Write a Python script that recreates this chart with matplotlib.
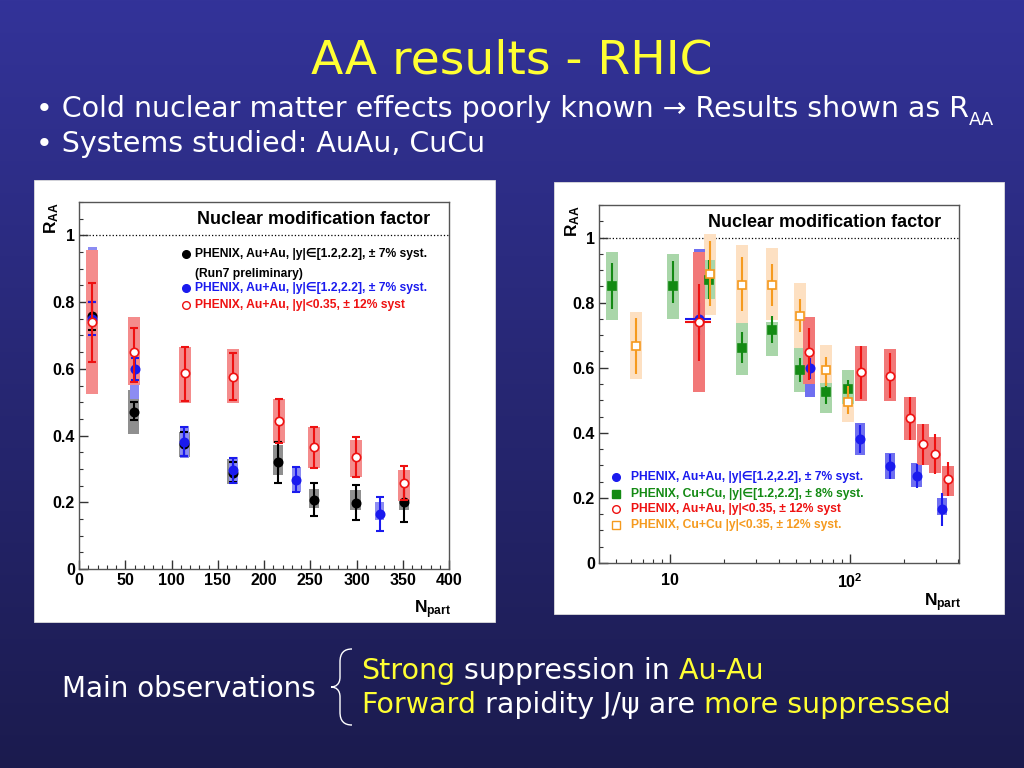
import numpy as np
import matplotlib
matplotlib.use('Agg')
import matplotlib.pyplot as plt
from matplotlib.path import Path
from matplotlib.patches import PathPatch, Rectangle
from matplotlib.ticker import MultipleLocator, FixedLocator, LogLocator, NullFormatter, FuncFormatter

plt.rcParams['mathtext.fontset'] = 'custom'
plt.rcParams['mathtext.rm'] = 'Liberation Sans:bold'
plt.rcParams['mathtext.it'] = 'Liberation Sans:bold'
plt.rcParams['mathtext.bf'] = 'Liberation Sans:bold'

# PHENIX Au+Au, forward rapidity |y| in [1.2,2.2]
npart_auau_fwd = [14.5, 60, 114, 167, 235, 325]
raa_auau_fwd = [0.75, 0.60, 0.38, 0.297, 0.267, 0.165]
stat_lo_auau_fwd = [0.70, 0.566, 0.339, 0.257, 0.23, 0.113]
stat_hi_auau_fwd = [0.80, 0.631, 0.425, 0.334, 0.305, 0.215]
sys_lo_auau_fwd = [0.535, 0.511, 0.332, 0.257, 0.232, 0.148]
sys_hi_auau_fwd = [0.965, 0.686, 0.43, 0.337, 0.307, 0.2]

# PHENIX Au+Au, mid rapidity |y|<0.35
npart_auau_mid = [14.5, 59.5, 114.5, 167, 216, 254.5, 299.5, 351]
raa_auau_mid = [0.741, 0.649, 0.586, 0.576, 0.444, 0.365, 0.335, 0.257]
stat_lo_auau_mid = [0.621, 0.561, 0.504, 0.508, 0.377, 0.302, 0.275, 0.207]
stat_hi_auau_mid = [0.857, 0.721, 0.666, 0.646, 0.511, 0.427, 0.397, 0.31]
sys_lo_auau_mid = [0.526, 0.551, 0.497, 0.497, 0.377, 0.302, 0.277, 0.205]
sys_hi_auau_mid = [0.955, 0.756, 0.666, 0.659, 0.511, 0.427, 0.387, 0.297]

# PHENIX Au+Au forward, Run7 preliminary
npart_run7 = [14.5, 59, 114, 166, 215, 254, 299, 351]
raa_run7 = [0.757, 0.472, 0.375, 0.287, 0.321, 0.207, 0.197, 0.20]
stat_lo_run7 = [0.716, 0.447, 0.34, 0.26, 0.259, 0.158, 0.146, 0.14]
stat_hi_run7 = [0.80, 0.50, 0.41, 0.32, 0.382, 0.259, 0.252, 0.26]
sys_lo_run7 = [0.70, 0.405, 0.335, 0.255, 0.282, 0.182, 0.177, 0.178]
sys_hi_run7 = [0.81, 0.536, 0.41, 0.33, 0.372, 0.239, 0.237, 0.222]

# PHENIX Cu+Cu, forward rapidity
npart_cucu_fwd = [4.7, 10.3, 16.5, 25.2, 37, 53, 74, 97]
raa_cucu_fwd = [0.85, 0.85, 0.87, 0.662, 0.717, 0.593, 0.526, 0.534]
stat_lo_cucu_fwd = [0.779, 0.799, 0.81, 0.615, 0.677, 0.556, 0.488, 0.51]
stat_hi_cucu_fwd = [0.921, 0.927, 0.93, 0.709, 0.758, 0.63, 0.556, 0.563]
sys_lo_cucu_fwd = [0.746, 0.75, 0.81, 0.577, 0.636, 0.524, 0.462, 0.49]
sys_hi_cucu_fwd = [0.955, 0.949, 0.93, 0.736, 0.74, 0.661, 0.554, 0.593]

# PHENIX Cu+Cu, mid rapidity
npart_cucu_mid = [6.4, 16.7, 25.2, 37, 53, 74, 97]
raa_cucu_mid = [0.666, 0.889, 0.855, 0.855, 0.758, 0.592, 0.495]
stat_lo_cucu_mid = [0.58, 0.789, 0.773, 0.791, 0.71, 0.544, 0.457]
stat_hi_cucu_mid = [0.753, 0.988, 0.94, 0.919, 0.811, 0.634, 0.544]
sys_lo_cucu_mid = [0.564, 0.763, 0.738, 0.746, 0.656, 0.488, 0.432]
sys_hi_cucu_mid = [0.771, 1.011, 0.977, 0.967, 0.86, 0.669, 0.564]

# x error on the most peripheral Au+Au bin (log plot only)
xerr_first = 2.4

RED = '#ee1111'
BLUE = '#1a1aee'
BLACK = '#000000'
GREEN = '#138a13'
ORANGE = '#f59a1e'
YEL = '#ffff33'
PLOT_FONT = ['Liberation Sans', 'DejaVu Sans']
SLIDE_FONT = 'DejaVu Sans'
BODY = 20.5


def draw_boxes(ax, x, slo, shi, color, halfw, logx, z):
    x = np.asarray(x, float)
    slo = np.asarray(slo, float)
    shi = np.asarray(shi, float)
    if logx:
        left, right = x / halfw, x * halfw
    else:
        left, right = x - halfw, x + halfw
    ax.bar(left, shi - slo, width=right - left, bottom=slo, align='edge',
           color=color, lw=0, zorder=z)


def draw_points(ax, x, y, lo, hi, color, marker, mfc, caps, z, xerr=None, ms=6):
    x = np.asarray(x, float)
    y = np.asarray(y, float)
    yerr = [y - np.asarray(lo), np.asarray(hi) - y]
    ax.errorbar(x, y, yerr=yerr, xerr=xerr, fmt='none', ecolor=color, elinewidth=1.5,
                capsize=caps, capthick=1.5, zorder=z)
    ax.plot(x, y, ls='none', marker=marker, ms=ms, mfc=mfc, mec=color, mew=1.2, zorder=z + 1)


def style_axes(ax):
    for s in ax.spines.values():
        s.set_color('#555555')
        s.set_linewidth(1.0)
    ax.tick_params(which='both', direction='in', top=False, right=False,
                   labelsize=11.5, pad=3, color='#333333')
    ax.tick_params(which='major', length=6.5, width=1.0)
    ax.tick_params(which='minor', length=3.2, width=0.8)
    for lab in ax.get_xticklabels() + ax.get_yticklabels():
        lab.set_fontweight('bold')
        lab.set_family(PLOT_FONT)
    ax.set_ylim(0, 1.1)
    ax.yaxis.set_major_locator(MultipleLocator(0.2))
    ax.yaxis.set_minor_locator(MultipleLocator(0.05))
    ax.yaxis.set_major_formatter(FuncFormatter(lambda v, p: '%g' % v))
    ax.axhline(1.0, ls=':', color='k', lw=0.9, zorder=1)
    ax.text(-0.073, 1.0, r'$R_{AA}$', transform=ax.transAxes, rotation=90,
            ha='center', va='top', fontsize=12.5)
    ax.text(0.955, -0.08, r'$N_{part}$', transform=ax.transAxes,
            ha='center', va='top', fontsize=12.5)
    ax.text(0.95, 0.951, 'Nuclear modification factor', transform=ax.transAxes,
            ha='right', va='center', fontsize=13, fontweight='bold', family=PLOT_FONT)


def legend_rows(ax, x_mark, x_text, rows, fs):
    for y, marker, mfc, col, label in rows:
        if marker:
            ax.plot([x_mark], [y], marker=marker, ms=5.5, mfc=mfc, mec=col, mew=1.0,
                    ls='none', transform=ax.transAxes, clip_on=False, zorder=10)
        ax.text(x_text, y, label, color=col, transform=ax.transAxes, va='center',
                ha='left', fontsize=fs, fontweight='bold', family=PLOT_FONT, zorder=10)


fig = plt.figure(figsize=(10.24, 7.68), dpi=100)

# slide background
bg = fig.add_axes([0, 0, 1, 1])
top = np.array([51, 51, 153]) / 255.0
bot = np.array([27, 27, 78]) / 255.0
t = np.linspace(0, 1, 256)[:, None, None]
grad = top * (1 - t) + bot * t
bg.imshow(grad, aspect='auto', extent=[0, 1, 0, 1], interpolation='bilinear')
bg.set_xlim(0, 1)
bg.set_ylim(0, 1)
bg.axis('off')


def px(x, y):
    return x / 1024.0, 1 - y / 768.0


# white panels behind the two plots
for x0, y0, x1, y1 in [(34, 180, 495, 622), (554, 182, 1004, 614)]:
    fx0, fy1 = px(x0, y1)
    bg.add_patch(Rectangle((fx0, fy1), (x1 - x0) / 1024.0, (y1 - y0) / 768.0,
                           facecolor='white', edgecolor='#dddddd', lw=0.6, zorder=2))


def rainbow(x, y, parts, size):
    txt = bg.text(x, y, parts[0][0], color=parts[0][1], fontsize=size,
                  family=SLIDE_FONT, va='baseline', ha='left', zorder=5)
    for s, c in parts[1:]:
        txt = bg.annotate(s, xycoords=txt, xy=(1, 0), va='bottom', ha='left', color=c,
                          fontsize=size, family=SLIDE_FONT, annotation_clip=False, zorder=5)
    return txt


# title and bullets
bg.text(0.5, 1 - 74 / 768.0, 'AA results - RHIC', color=YEL, fontsize=34,
        family=SLIDE_FONT, ha='center', va='baseline', zorder=5)
last = rainbow(36 / 1024.0, 1 - 117 / 768.0,
               [('\u2022 Cold nuclear matter effects poorly known \u2192 Results shown as R', 'white')],
               BODY)
bg.annotate('AA', xycoords=last, xy=(1, 0), xytext=(0, -4), textcoords='offset points',
            va='bottom', ha='left', color='white', fontsize=13, family=SLIDE_FONT,
            annotation_clip=False, zorder=5)
bg.text(36 / 1024.0, 1 - 152 / 768.0, '\u2022 Systems studied: AuAu, CuCu', color='white',
        fontsize=BODY, family=SLIDE_FONT, ha='left', va='baseline', zorder=5)

# main observations with brace
bg.text(62 / 1024.0, 1 - 697 / 768.0, 'Main observations', color='white', fontsize=BODY - 0.5,
        family=SLIDE_FONT, ha='left', va='baseline', zorder=5)
rainbow(361 / 1024.0, 1 - 679 / 768.0,
        [('Strong', YEL), (' suppression in', 'white'), (' Au-Au', YEL)], BODY)
rainbow(361 / 1024.0, 1 - 713 / 768.0,
        [('Forward', YEL), (' rapidity J/\u03c8 are', 'white'), (' more suppressed', YEL)], BODY)

brace = [(352, 649), (344, 649), (340, 653), (340, 662), (340, 677),
         (340, 684), (336, 687), (331, 687), (336, 687), (340, 690), (340, 697),
         (340, 712), (340, 721), (344, 725), (352, 725)]
codes = [Path.MOVETO, Path.CURVE4, Path.CURVE4, Path.CURVE4, Path.LINETO,
         Path.CURVE4, Path.CURVE4, Path.CURVE4, Path.CURVE4, Path.CURVE4, Path.CURVE4,
         Path.LINETO, Path.CURVE4, Path.CURVE4, Path.CURVE4]
bg.add_patch(PathPatch(Path([px(a, b) for a, b in brace], codes), facecolor='none',
                       edgecolor='white', lw=1.0, zorder=5))

# ---------------- left plot: linear Npart ----------------
ax1 = fig.add_axes([79 / 1024.0, 1 - 569 / 768.0, 370 / 1024.0, 367 / 768.0])
ax1.set_xlim(0, 400)
ax1.xaxis.set_major_locator(MultipleLocator(50))
ax1.xaxis.set_minor_locator(MultipleLocator(10))
ax1.xaxis.set_major_formatter(FuncFormatter(lambda v, p: '%g' % v))
style_axes(ax1)

draw_boxes(ax1, npart_run7, sys_lo_run7, sys_hi_run7, '#8f8f8f', 5.5, False, 2)
draw_boxes(ax1, npart_auau_fwd, sys_lo_auau_fwd, sys_hi_auau_fwd, '#8c8cf2', 5.0, False, 3)
draw_boxes(ax1, npart_auau_mid, sys_lo_auau_mid, sys_hi_auau_mid, '#f48c8c', 6.5, False, 4)
draw_points(ax1, npart_run7, raa_run7, stat_lo_run7, stat_hi_run7, BLACK, 'o', BLACK, 3, 5)
draw_points(ax1, npart_auau_fwd, raa_auau_fwd, stat_lo_auau_fwd, stat_hi_auau_fwd, BLUE, 'o', BLUE, 3, 7)
draw_points(ax1, npart_auau_mid, raa_auau_mid, stat_lo_auau_mid, stat_hi_auau_mid, RED, 'o', 'white', 3, 9)

legend_rows(ax1, 0.289, 0.314, [
    (0.858, 'o', BLACK, BLACK, 'PHENIX, Au+Au, |y|\u2208[1.2,2.2], \u00b1 7% syst.'),
    (0.804, None, None, BLACK, '(Run7 preliminary)'),
    (0.766, 'o', BLUE, BLUE, 'PHENIX, Au+Au, |y|\u2208[1.2,2.2], \u00b1 7% syst.'),
    (0.719, 'o', 'white', RED, 'PHENIX, Au+Au, |y|<0.35, \u00b1 12% syst'),
], 8.7)

# ---------------- right plot: log Npart ----------------
ax2 = fig.add_axes([599 / 1024.0, 1 - 563 / 768.0, 360 / 1024.0, 358 / 768.0])
ax2.set_xscale('log')
ax2.set_xlim(4, 405)
ax2.xaxis.set_major_locator(FixedLocator([10, 100]))
ax2.xaxis.set_minor_locator(LogLocator(base=10, subs=np.arange(2, 10)))
ax2.xaxis.set_minor_formatter(NullFormatter())
ax2.xaxis.set_major_formatter(FuncFormatter(lambda v, p: '10' if v < 50 else r'$10^{2}$'))
style_axes(ax2)
ax2.tick_params(axis='x', which='major', pad=7)

draw_boxes(ax2, npart_cucu_mid, sys_lo_cucu_mid, sys_hi_cucu_mid, '#fde0c2', 1.08, True, 2)
draw_boxes(ax2, npart_cucu_fwd, sys_lo_cucu_fwd, sys_hi_cucu_fwd, '#a9d6a9', 1.08, True, 3)
draw_boxes(ax2, npart_auau_fwd, sys_lo_auau_fwd, sys_hi_auau_fwd, '#6f6ff0', 1.07, True, 4)
draw_boxes(ax2, npart_auau_mid, sys_lo_auau_mid, sys_hi_auau_mid, '#f27878', 1.08, True, 5)
draw_points(ax2, npart_cucu_fwd, raa_cucu_fwd, stat_lo_cucu_fwd, stat_hi_cucu_fwd, GREEN, 's', GREEN, 0, 6)
draw_points(ax2, npart_cucu_mid, raa_cucu_mid, stat_lo_cucu_mid, stat_hi_cucu_mid, ORANGE, 's', 'white', 0, 8)
xe_fwd = [xerr_first] + [0] * (len(npart_auau_fwd) - 1)
xe_mid = [xerr_first] + [0] * (len(npart_auau_mid) - 1)
draw_points(ax2, npart_auau_fwd, raa_auau_fwd, stat_lo_auau_fwd, stat_hi_auau_fwd, BLUE, 'o', BLUE, 0, 10, xerr=xe_fwd)
draw_points(ax2, npart_auau_mid, raa_auau_mid, stat_lo_auau_mid, stat_hi_auau_mid, RED, 'o', 'white', 0, 12, xerr=xe_mid)

legend_rows(ax2, 0.047, 0.089, [
    (0.240, 'o', BLUE, BLUE, 'PHENIX, Au+Au, |y|\u2208[1.2,2.2], \u00b1 7% syst.'),
    (0.193, 's', GREEN, GREEN, 'PHENIX, Cu+Cu, |y|\u2208[1.2,2.2], \u00b1 8% syst.'),
    (0.151, 'o', 'white', RED, 'PHENIX, Au+Au, |y|<0.35, \u00b1 12% syst'),
    (0.106, 's', 'white', ORANGE, 'PHENIX, Cu+Cu |y|<0.35, \u00b1 12% syst.'),
], 8.7)

fig.savefig('out.png', dpi=100)
